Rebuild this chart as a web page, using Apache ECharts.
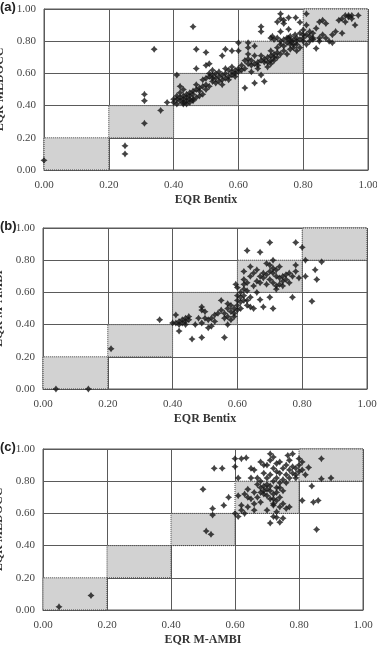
<!DOCTYPE html>
<html>
<head>
<meta charset="utf-8">
<script src="https://cdn.jsdelivr.net/npm/echarts@6/dist/echarts.min.js"></script>
<style>
  html, body { margin: 0; padding: 0; background: #fff; }
  #main { width: 377px; height: 645px; }
</style>
</head>
<body>
<div id="main"></div>
<script>
// --- 数据 ---
const panelTags = ['(a)', '(b)', '(c)'];
const xNames = ['EQR Bentix', 'EQR Bentix', 'EQR M-AMBI'];
const yNames = ['EQR MEDOCC', 'EQR M-AMBI', 'EQR MEDOCC'];

// 对角线上的等级方框 (x0, y0, x1, y1)
const classBoxes = [
  [0.0, 0.0, 0.2, 0.2],
  [0.2, 0.2, 0.4, 0.4],
  [0.4, 0.4, 0.6, 0.6],
  [0.6, 0.6, 0.8, 0.8],
  [0.8, 0.8, 1.0, 1.0],
];

// (a) Bentix vs MEDOCC
const pointsA = [
  [0.00,0.06],[0.25,0.15],[0.25,0.10],[0.31,0.47],[0.31,0.43],[0.31,0.29],[0.34,0.75],[0.36,0.37],[0.38,0.42],
  [0.46,0.89],[0.41,0.59],[0.47,0.75],[0.50,0.73],[0.55,0.71],[0.56,0.75],[0.58,0.74],
  [0.40,0.42],[0.41,0.44],[0.41,0.41],[0.42,0.45],[0.42,0.43],[0.43,0.46],[0.43,0.42],[0.44,0.47],[0.44,0.43],
  [0.45,0.46],[0.45,0.42],[0.46,0.49],[0.46,0.44],[0.47,0.45],[0.47,0.50],[0.48,0.51],[0.48,0.46],[0.49,0.52],
  [0.49,0.47],[0.50,0.53],[0.50,0.57],[0.51,0.52],[0.51,0.58],[0.52,0.55],[0.52,0.59],[0.53,0.54],[0.53,0.57],
  [0.54,0.58],[0.54,0.61],[0.55,0.56],[0.55,0.59],[0.56,0.60],[0.56,0.57],[0.57,0.58],[0.57,0.62],[0.58,0.59],
  [0.58,0.61],[0.59,0.62],[0.59,0.60],[0.60,0.63],[0.60,0.61],[0.42,0.48],[0.43,0.50],[0.44,0.45],[0.41,0.46],
  [0.45,0.44],[0.46,0.43],[0.50,0.65],[0.51,0.66],[0.52,0.62],[0.51,0.60],[0.49,0.56],[0.47,0.53],[0.48,0.49],
  [0.44,0.41],[0.45,0.48],[0.43,0.41],[0.40,0.44],[0.42,0.52],[0.43,0.44],[0.55,0.53],[0.56,0.63],
  [0.54,0.55],[0.53,0.60],[0.57,0.56],[0.58,0.64],[0.59,0.58],[0.47,0.63],[0.52,0.57],[0.50,0.50],[0.46,0.47],
  [0.61,0.62],[0.61,0.65],[0.62,0.63],[0.62,0.68],[0.63,0.66],[0.63,0.69],[0.64,0.65],[0.64,0.68],[0.65,0.66],
  [0.65,0.71],[0.66,0.67],[0.66,0.65],[0.67,0.68],[0.67,0.71],[0.68,0.69],[0.68,0.67],[0.69,0.70],[0.69,0.67],
  [0.70,0.71],[0.70,0.68],[0.71,0.72],[0.71,0.70],[0.72,0.73],[0.72,0.76],[0.73,0.78],[0.73,0.80],[0.74,0.77],
  [0.74,0.81],[0.75,0.79],[0.75,0.82],[0.76,0.80],[0.76,0.83],[0.77,0.81],[0.77,0.78],[0.78,0.80],[0.78,0.82],
  [0.79,0.81],[0.79,0.85],[0.80,0.84],[0.80,0.87],[0.62,0.51],[0.65,0.54],[0.68,0.55],[0.67,0.59],[0.63,0.72],
  [0.60,0.79],[0.63,0.79],[0.65,0.77],[0.67,0.89],[0.67,0.86],[0.73,0.97],[0.73,0.94],[0.755,0.946],[0.777,0.946],
  [0.79,0.917],[0.74,0.91],[0.755,0.875],[0.705,0.83],[0.70,0.82],[0.72,0.82],[0.755,0.82],[0.765,0.80],[0.775,0.84],
  [0.60,0.74],[0.63,0.76],[0.70,0.74],[0.72,0.70],[0.72,0.92],[0.74,0.93],[0.73,0.86],[0.71,0.81],[0.76,0.78],
  [0.77,0.76],[0.78,0.78],[0.79,0.76],[0.64,0.61],[0.66,0.63],[0.69,0.64],[0.70,0.66],[0.71,0.68],[0.73,0.72],
  [0.74,0.74],[0.75,0.72],[0.76,0.75],[0.78,0.74],
  [0.81,0.90],[0.82,0.86],[0.83,0.82],[0.85,0.82],[0.87,0.82],[0.90,0.86],[0.91,0.93],[0.93,0.96],[0.94,0.95],
  [0.95,0.96],[0.96,0.90],[0.84,0.755],[0.88,0.80],[0.81,0.84],[0.82,0.80],[0.83,0.85],[0.84,0.88],[0.85,0.92],
  [0.86,0.93],[0.87,0.91],[0.86,0.84],[0.89,0.79],[0.92,0.94],[0.93,0.92],[0.95,0.94],[0.92,0.85],[0.94,0.96],
  [0.81,0.97],[0.80,0.80],[0.81,0.78],[0.85,0.80],[0.89,0.84],[0.97,0.96],[0.83,0.81],[0.80,0.82],[0.82,0.83],
];

// (b) Bentix vs M-AMBI
const pointsB = [
  [0.04,0.00],[0.14,0.00],[0.21,0.25],[0.36,0.43],[0.40,0.41],[0.41,0.41],[0.41,0.46],[0.42,0.40],[0.42,0.42],
  [0.43,0.41],[0.43,0.43],[0.44,0.42],[0.44,0.40],[0.45,0.45],[0.45,0.43],[0.42,0.36],[0.46,0.31],[0.49,0.32],
  [0.56,0.32],[0.48,0.44],[0.49,0.41],[0.49,0.49],[0.49,0.51],[0.50,0.48],[0.51,0.43],[0.51,0.38],[0.52,0.39],
  [0.52,0.44],[0.53,0.46],[0.54,0.47],[0.55,0.55],[0.55,0.49],[0.56,0.44],[0.56,0.47],[0.57,0.53],[0.57,0.40],
  [0.57,0.45],[0.58,0.48],[0.58,0.43],[0.59,0.45],[0.59,0.47],[0.59,0.50],[0.60,0.49],[0.60,0.52],[0.60,0.55],
  [0.60,0.58],[0.61,0.50],[0.61,0.54],[0.61,0.57],[0.61,0.60],[0.60,0.63],[0.595,0.65],[0.62,0.62],[0.62,0.58],
  [0.63,0.55],[0.63,0.61],[0.64,0.51],[0.65,0.50],[0.67,0.555],[0.68,0.51],[0.70,0.57],[0.71,0.50],[0.77,0.57],
  [0.83,0.545],[0.62,0.73],[0.62,0.68],[0.63,0.66],[0.63,0.86],[0.64,0.70],[0.64,0.76],[0.65,0.64],[0.65,0.72],
  [0.66,0.67],[0.66,0.74],[0.67,0.85],[0.67,0.70],[0.67,0.66],[0.68,0.72],[0.68,0.69],[0.69,0.71],[0.69,0.65],
  [0.70,0.91],[0.70,0.77],[0.70,0.73],[0.70,0.68],[0.71,0.75],[0.71,0.72],[0.71,0.66],[0.72,0.74],[0.72,0.70],
  [0.72,0.64],[0.73,0.76],[0.73,0.69],[0.73,0.65],[0.74,0.70],[0.74,0.67],[0.75,0.71],[0.75,0.68],[0.76,0.72],
  [0.76,0.66],[0.77,0.70],[0.78,0.73],[0.78,0.91],[0.78,0.77],[0.79,0.69],[0.80,0.88],[0.81,0.80],[0.81,0.70],
  [0.84,0.74],[0.845,0.68],[0.86,0.79],[0.69,0.78],[0.71,0.80],[0.72,0.62],[0.74,0.64],[0.66,0.60],[0.64,0.57],
  [0.62,0.65],[0.44,0.44],[0.47,0.40],[0.53,0.42],[0.50,0.44],[0.58,0.52],[0.57,0.50],[0.62,0.55],[0.63,0.52],
];

// (c) M-AMBI vs MEDOCC
const pointsC = [
  [0.05,0.02],[0.15,0.09],[0.50,0.75],[0.53,0.63],[0.53,0.59],[0.51,0.49],[0.525,0.47],[0.565,0.65],[0.58,0.70],
  [0.535,0.88],[0.56,0.88],[0.60,0.94],[0.60,0.89],[0.635,0.945],[0.855,0.50],[0.84,0.77],[0.845,0.67],[0.86,0.68],
  [0.87,0.94],[0.87,0.815],[0.90,0.82],[0.83,0.885],[0.81,0.68],[0.71,0.54],[0.73,0.575],[0.74,0.545],[0.71,0.97],
  [0.765,0.96],[0.60,0.60],[0.61,0.58],[0.62,0.62],[0.62,0.65],[0.63,0.60],[0.63,0.72],[0.64,0.64],[0.64,0.75],
  [0.65,0.69],[0.65,0.88],[0.66,0.66],[0.66,0.73],[0.66,0.87],[0.67,0.78],[0.67,0.70],[0.67,0.82],[0.68,0.73],
  [0.68,0.76],[0.68,0.80],[0.68,0.92],[0.69,0.74],[0.69,0.72],[0.69,0.85],[0.70,0.75],[0.70,0.78],[0.70,0.82],
  [0.70,0.90],[0.71,0.74],[0.71,0.77],[0.71,0.84],[0.71,0.93],[0.72,0.65],[0.72,0.66],[0.72,0.72],[0.72,0.80],
  [0.72,0.88],[0.72,0.95],[0.73,0.68],[0.73,0.76],[0.73,0.82],[0.73,0.86],[0.73,0.91],[0.74,0.64],[0.74,0.70],
  [0.74,0.79],[0.74,0.85],[0.74,0.92],[0.75,0.66],[0.75,0.74],[0.75,0.81],[0.75,0.88],[0.76,0.63],[0.76,0.79],
  [0.76,0.84],[0.76,0.90],[0.77,0.82],[0.77,0.87],[0.77,0.93],[0.78,0.85],[0.78,0.89],[0.79,0.84],[0.79,0.88],
  [0.80,0.86],[0.80,0.90],[0.80,0.94],[0.81,0.87],[0.82,0.84],[0.73,0.61],[0.70,0.62],[0.68,0.67],[0.66,0.62],
  [0.64,0.70],[0.61,0.71],[0.62,0.94],[0.65,0.82],[0.69,0.90],[0.78,0.97],[0.79,0.82],[0.81,0.92],[0.61,0.82],
  [0.75,0.57],[0.72,0.58],[0.77,0.64],[0.70,0.71],[0.71,0.69],[0.72,0.69],[0.73,0.73],[0.69,0.77],[0.74,0.76],
];

const panelPoints = [pointsA, pointsB, pointsC];

// --- 布局 ---
const grids = [
  { left: 44, top: 9, width: 324, height: 161 },
  { left: 43, top: 228, width: 324, height: 161 },
  { left: 43, top: 449, width: 320, height: 161 },
];

const lineColor = '#5a5a5a';
const serif = '"Liberation Serif", "DejaVu Serif", serif';
const starPath = 'path://M0,-10 L4,-4 L10,0 L4,4 L0,10 L-4,4 L-10,0 L-4,-4 Z';

const valueAxis = (idx, name, isY) => ({
  type: 'value',
  gridIndex: idx,
  min: 0,
  max: 1,
  interval: 0.2,
  name: name,
  nameLocation: 'middle',
  nameGap: isY ? 37 : 24,
  nameTextStyle: { fontFamily: serif, fontWeight: 'bold', fontSize: 12, color: '#333' },
  axisLine: { show: true, lineStyle: { color: lineColor, width: 1 } },
  axisTick: { show: false },
  axisLabel: {
    fontFamily: serif, fontSize: 11, color: '#444', margin: isY ? 8 : 10,
    formatter: v => v.toFixed(2),
  },
  splitLine: { show: true, lineStyle: { color: lineColor, width: 1 } },
});

const chart = echarts.init(document.getElementById('main'));

chart.setOption({
  animation: false,
  grid: grids.map(g => ({
    ...g, show: true, borderColor: lineColor, borderWidth: 1, backgroundColor: '#fff',
    containLabel: false, outerBoundsMode: 'none',
  })),
  xAxis: grids.map((g, i) => valueAxis(i, xNames[i], false)),
  yAxis: grids.map((g, i) => valueAxis(i, yNames[i], true)),
  graphic: grids.map((g, i) => ({
    type: 'text',
    left: 0,
    top: g.top - 8,
    style: { text: panelTags[i], font: 'bold 13px "Liberation Sans", Arial, sans-serif', fill: '#222' },
  })),
  series: panelPoints.map((pts, i) => ({
    type: 'scatter',
    xAxisIndex: i,
    yAxisIndex: i,
    data: pts,
    symbol: starPath,
    symbolSize: 7,
    itemStyle: { color: '#151515' },
    z: 5,
    markArea: {
      silent: true,
      itemStyle: { color: '#d2d2d2', borderColor: '#444', borderWidth: 1, borderType: 'dotted' },
      data: classBoxes.map(b => [{ coord: [b[0], b[1]] }, { coord: [b[2], b[3]] }]),
    },
  })),
});
</script>
</body>
</html>
